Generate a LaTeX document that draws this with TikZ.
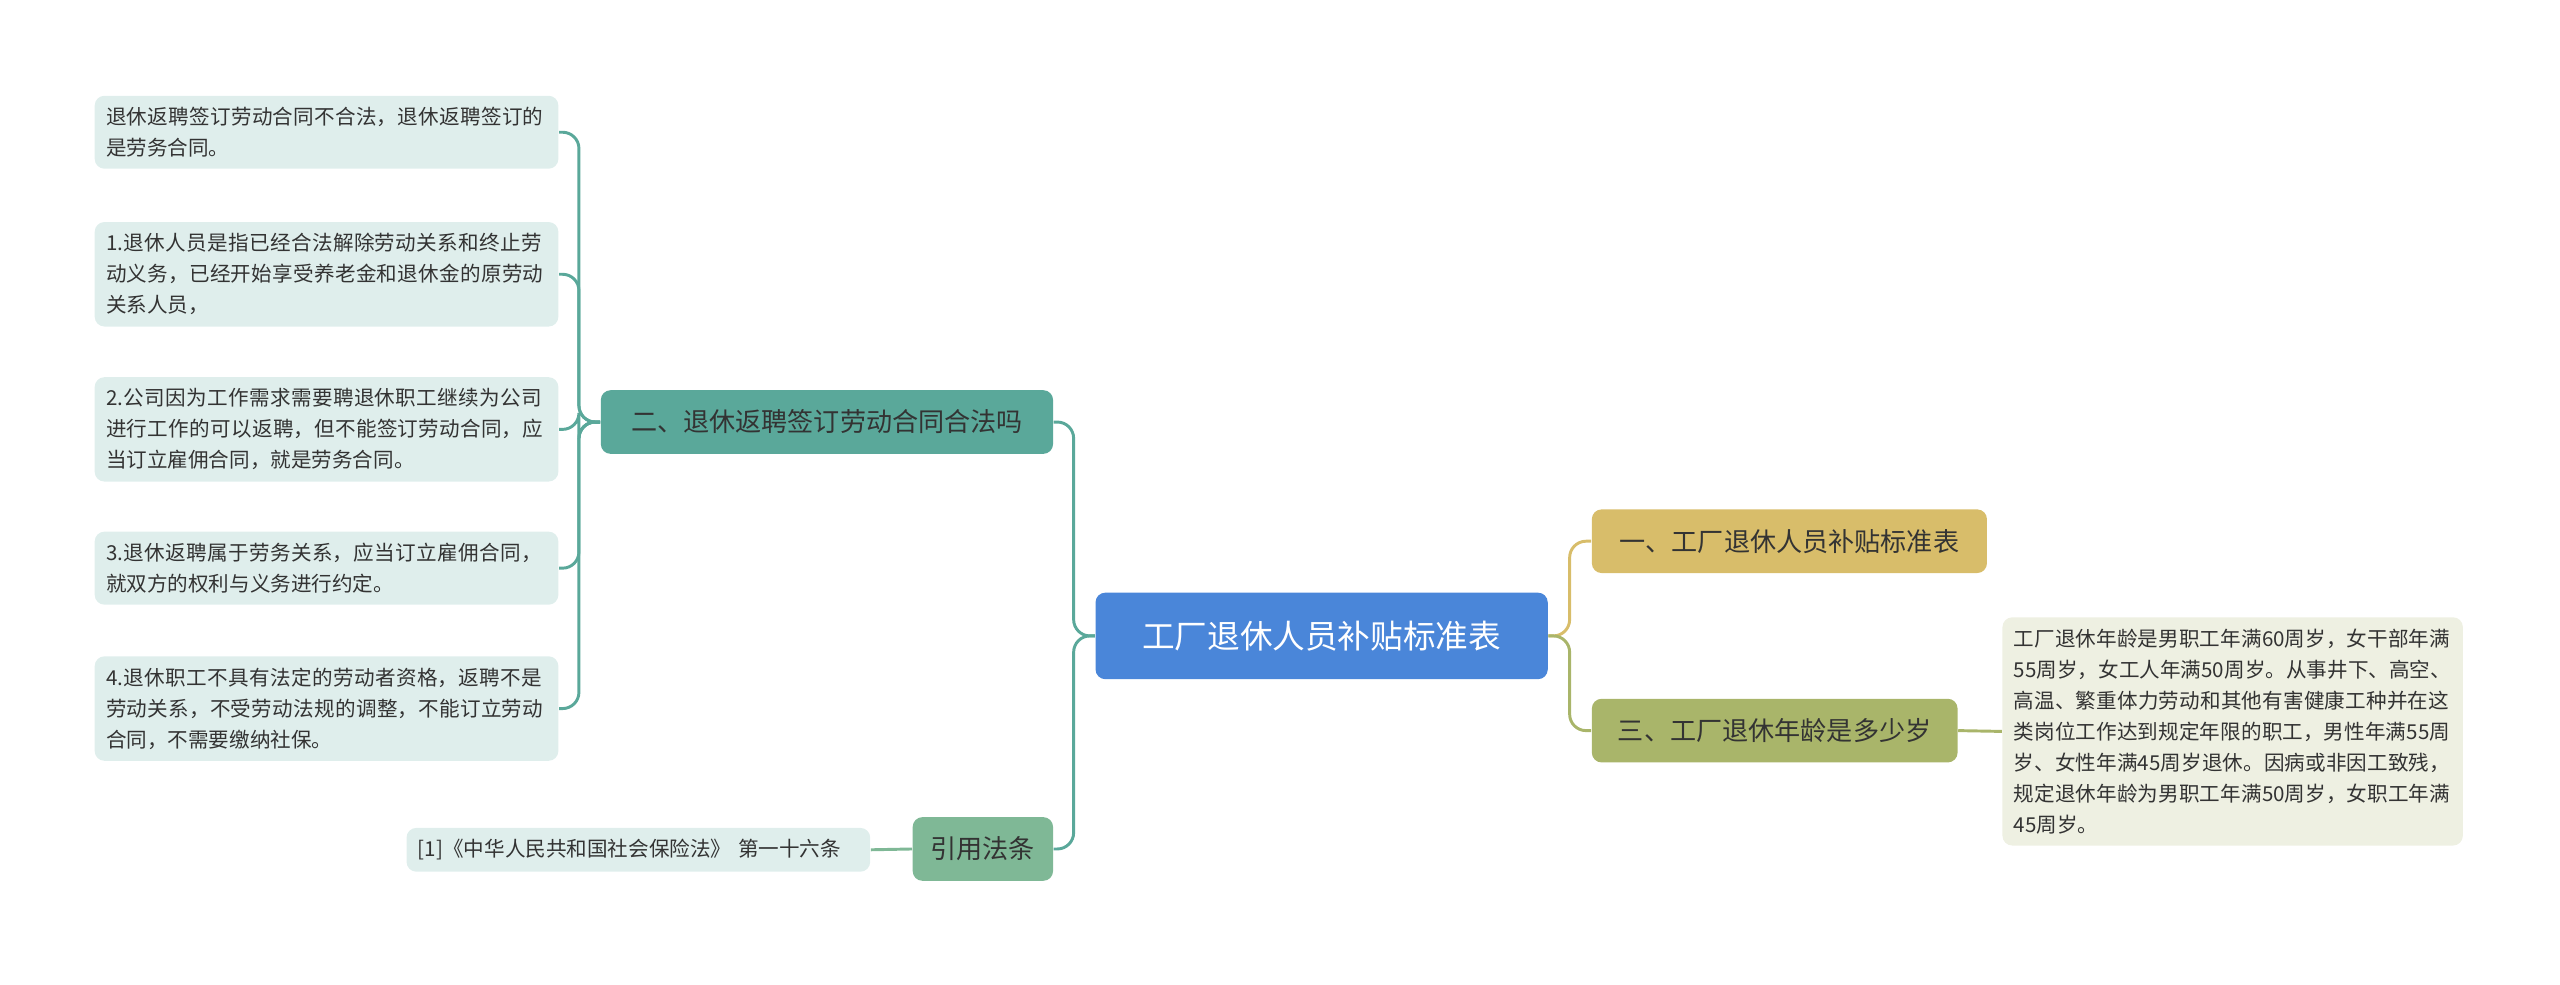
\documentclass[tikz,border=0pt]{standalone}
\usepackage{fontspec}
\setmainfont{Noto Sans CJK SC}
\XeTeXlinebreaklocale "zh"
\XeTeXlinebreakskip=0pt plus 1pt
\usetikzlibrary{positioning}
\definecolor{cblue}{HTML}{4A86D9}
\definecolor{cteal}{HTML}{5AA89A}
\definecolor{cgold}{HTML}{D8BD6A}
\definecolor{colive}{HTML}{A9B56A}
\definecolor{cgreen}{HTML}{7FB896}
\definecolor{leafg}{HTML}{DFEEEC}
\definecolor{leafy}{HTML}{EEF0E2}
\begin{document}
\begin{tikzpicture}[x=0.5pt,y=-0.5pt,
    root/.style={rectangle, fill=cblue, text=white, rounded corners=3pt, font=\fontsize{10}{12}\selectfont, minimum width=138.5pt, minimum height=26.5pt},
    branch/.style={rectangle, rounded corners=3pt, font=\fontsize{8}{10}\selectfont, text=black!80, minimum height=19.5pt, inner xsep=4pt},
    leaf/.style={rectangle, rounded corners=3pt, font=\fontsize{6.3}{9.5}\selectfont, text=black!80, align=left, inner sep=3.5pt, text width=135pt},
    link/.style={line width=0.9pt, rounded corners=5pt}
]
\useasboundingbox (0,0) rectangle (1568,603);

\node[root] (center) at (809.5,389.5) {工厂退休人员补贴标准表};

\node[branch, fill=cgold, minimum width=121pt] (std) at (1096,331.5) {一、工厂退休人员补贴标准表};
\node[branch, fill=colive, minimum width=112pt] (age) at (1087,447.5) {三、工厂退休年龄是多少岁};
\node[leaf, fill=leafy, text width=134pt] (agetext) at (1367.5,448) {工厂退休年龄是男职工年满60周岁，女干部年满55周岁，女工人年满50周岁。从事井下、高空、高温、繁重体力劳动和其他有害健康工种并在这类岗位工作达到规定年限的职工，男性年满55周岁、女性年满45周岁退休。因病或非因工致残，规定退休年龄为男职工年满50周岁，女职工年满45周岁。};

\node[branch, fill=cteal, minimum width=138.5pt] (rehire) at (506.5,258.5) {二、退休返聘签订劳动合同合法吗};
\node[branch, fill=cgreen, minimum width=43pt] (law) at (602,520) {引用法条};
\node[leaf, fill=leafg] (lawtext) at (391,520.5) {[1]《中华人民共和国社会保险法》 第一十六条};

\node[leaf, fill=leafg] (r1) at (200,81) {退休返聘签订劳动合同不合法，退休返聘签订的是劳务合同。};
\node[leaf, fill=leafg] (r2) at (200,168) {1.退休人员是指已经合法解除劳动关系和终止劳动义务，已经开始享受养老金和退休金的原劳动关系人员，};
\node[leaf, fill=leafg] (r3) at (200,263) {2.公司因为工作需求需要聘退休职工继续为公司进行工作的可以返聘，但不能签订劳动合同，应当订立雇佣合同，就是劳务合同。};
\node[leaf, fill=leafg] (r4) at (200,348) {3.退休返聘属于劳务关系，应当订立雇佣合同，就双方的权利与义务进行约定。};
\node[leaf, fill=leafg] (r5) at (200,434) {4.退休职工不具有法定的劳动者资格，返聘不是劳动关系，不受劳动法规的调整，不能订立劳动合同，不需要缴纳社保。};

% center to branches
\draw[link, cgold] (center.east) -- ++(13,0) |- (std.west);
\draw[link, colive] (center.east) -- ++(13,0) |- (age.west);
\draw[link, colive] (age.east) -- (agetext.west);
\draw[link, cteal] (center.west) -- ++(-13,0) |- (rehire.east);
\draw[link, cteal] (center.west) -- ++(-13,0) |- (law.east);
\draw[link, cgreen] (law.west) -- (lawtext.east);
% leaves
\foreach \r in {r1,r2,r3,r4,r5}
  \draw[link, cteal] (rehire.west) -- ++(-13,0) |- (\r.east);
\end{tikzpicture}
\end{document}
